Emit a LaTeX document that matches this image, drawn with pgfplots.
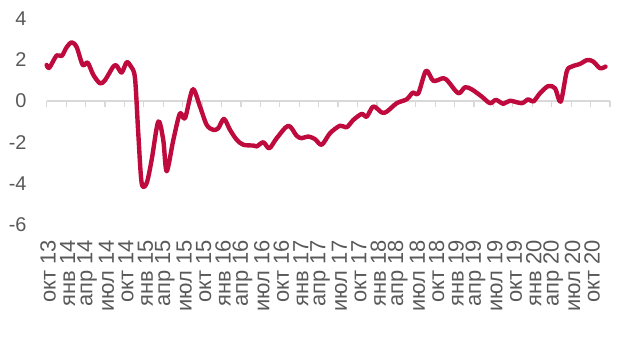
\documentclass[border=0pt]{standalone}
\usepackage{fontspec}
\setmainfont{Liberation Sans}
\usepackage{pgfplots}
\pgfplotsset{compat=1.18}
\definecolor{lineRed}{RGB}{190,10,60}
\definecolor{zeroGray}{RGB}{217,217,217}
\definecolor{labGray}{RGB}{89,89,89}
\begin{document}
\fontsize{20}{24}\selectfont
\begin{tikzpicture}
\useasboundingbox (-46.7bp,-114bp) rectangle (573.3bp,225bp);
% zero line with tick marks
\begin{axis}[
  at={(0,0)}, anchor=south west,
  scale only axis, width=563.3bp, height=206.8bp,
  xmin=0, xmax=87, ymin=-6, ymax=4,
  axis x line=middle, axis y line=none,
  x axis line style={draw=zeroGray, line width=1.3bp, -},
  xtick={0,3,...,87}, xticklabels={},
  xtick style={draw=zeroGray, line width=1.2bp},
  major tick length=6bp, tick align=outside,
  ytick=\empty,
]
\end{axis}
\begin{axis}[
  at={(0,0)}, anchor=south west,
  scale only axis, width=563.3bp, height=206.8bp,
  xmin=0, xmax=87, ymin=-6, ymax=4,
  axis line style={draw=none},
  major tick length=0pt,
  xtick={0,3,...,84},
  xticklabels={окт 13,янв 14,апр 14,июл 14,окт 14,янв 15,апр 15,июл 15,окт 15,янв 16,апр 16,июл 16,окт 16,янв 17,апр 17,июл 17,окт 17,янв 18,апр 18,июл 18,окт 18,янв 19,апр 19,июл 19,окт 19,янв 20,апр 20,июл 20,окт 20},
  xticklabel style={rotate=90, anchor=east, inner sep=0pt, xshift=-15bp, yshift=-1.5bp, text=labGray, font=\fontsize{22}{26}\selectfont},
  ytick={-6,-4,-2,0,2,4},
  yticklabels={-6,-4,-2,0,2,4},
  yticklabel style={anchor=east, inner sep=0pt, xshift=-20bp, text=labGray, font=\fontsize{20}{24}\selectfont},
  clip=false,
]
\addplot[lineRed, line width=4.4bp, smooth, tension=0.5, line cap=round, line join=round] coordinates {
(0.0,1.74) (0.4,1.6) (1.54,2.2) (2.32,2.17) (3.09,2.6) (3.86,2.83) (4.63,2.6)
(5.56,1.74) (6.33,1.85) (7.2,1.26) (8.23,0.85) (9.0,1.0) (10.28,1.66) (10.81,1.7)
(11.58,1.37) (12.35,1.87) (13.02,1.66) (13.64,1.1) (14.14,-1.55) (14.67,-3.98)
(15.44,-3.97) (16.21,-2.85) (17.23,-1.0) (18.0,-1.88) (18.53,-3.4) (19.55,-1.9)
(20.58,-0.6) (21.36,-0.84) (22.55,0.56) (23.67,-0.27) (24.71,-1.16) (25.73,-1.4)
(26.5,-1.32) (27.38,-0.87) (28.31,-1.4) (29.35,-1.88) (30.37,-2.12) (31.91,-2.16)
(32.44,-2.2) (33.46,-2.0) (34.38,-2.29) (35.53,-1.8) (37.32,-1.2) (38.61,-1.69)
(39.39,-1.8) (40.41,-1.72) (41.44,-1.85) (42.48,-2.12) (43.76,-1.56) (45.3,-1.2)
(46.34,-1.27) (47.36,-0.92) (48.66,-0.63) (49.43,-0.76) (50.45,-0.27) (51.75,-0.56)
(52.52,-0.52) (54.06,-0.11) (55.61,0.08) (56.54,0.4) (57.4,0.37) (58.59,1.46)
(59.72,0.97) (61.26,1.1) (62.03,0.93) (63.57,0.37) (64.61,0.66) (65.64,0.56)
(67.19,0.21) (68.47,-0.11) (69.39,0.05) (70.52,-0.14) (71.55,0.01) (73.36,-0.11)
(74.38,0.08) (75.16,-0.03) (76.19,0.37) (77.47,0.72) (78.51,0.61) (79.39,-0.03)
(80.32,1.42) (81.09,1.66) (82.37,1.79) (83.5,1.98) (84.43,1.9) (85.46,1.58) (86.3,1.66)
};
\end{axis}
\end{tikzpicture}
\end{document}
